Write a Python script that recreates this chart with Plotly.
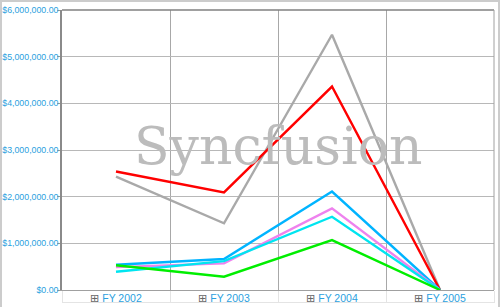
import plotly.graph_objects as go

categories = ["FY 2002", "FY 2003", "FY 2004", "FY 2005"]
series_gray = [2430000, 1430000, 5470000, 0]
series_red = [2540000, 2090000, 4360000, 0]
series_blue = [540000, 665000, 2110000, 0]
series_violet = [490000, 570000, 1750000, 0]
series_cyan = [390000, 620000, 1570000, 0]
series_green = [530000, 285000, 1070000, 0]
y_ticks = [0, 1000000, 2000000, 3000000, 4000000, 5000000, 6000000]

series = [
    (series_gray, "#a9a9a9"),
    (series_red, "#ff0000"),
    (series_blue, "#00b4ff"),
    (series_violet, "#ee82ee"),
    (series_cyan, "#00e5f0"),
    (series_green, "#00ee00"),
]

fig = go.Figure()
for vals, col in series:
    fig.add_trace(go.Scatter(x=categories, y=vals, mode="lines",
                             line=dict(color=col, width=2.4), showlegend=False,
                             hoverinfo="skip"))

ticktext = ["<span style='color:#666666;font-size:11px'>⊞</span> " + c for c in categories]

L, R, T, B = 62, 6, 10, 17
W, H = 500, 307
pw, ph = W - L - R, H - T - B

fig.update_layout(
    width=W, height=H,
    margin=dict(l=L, r=R, t=T, b=B, autoexpand=False),
    paper_bgcolor="white", plot_bgcolor="white",
    xaxis=dict(type="category", range=[-0.5, 3.5], tickson="boundaries",
               tickvals=categories, ticktext=ticktext, automargin=False,
               showgrid=True, gridcolor="#a8a8a8", gridwidth=1,
               ticks="outside", ticklen=12, tickcolor="#e4e4e4",
               tickfont=dict(family="Liberation Sans", size=10.5, color="#2b9fe0"),
               ticklabelstandoff=-2,
               showline=True, linecolor="#a0a0a0", linewidth=1,
               mirror=False, zeroline=False, fixedrange=True),
    yaxis=dict(range=[0, 6000000], tickvals=y_ticks, tickformat="$,.2f",
               automargin=False,
               showgrid=True, gridcolor="#b8b8b8", gridwidth=1,
               ticks="outside", ticklen=3, tickcolor="#999999",
               tickfont=dict(family="Liberation Sans", size=8.8, color="#2b9fe0"),
               ticklabelstandoff=-3,
               showline=True, linecolor="#8a8a8a", linewidth=1.5,
               zeroline=False, fixedrange=True),
    shapes=[
        dict(type="line", xref="paper", yref="paper", x0=0, x1=1, y0=1, y1=1,
             line=dict(color="#808080", width=1.5)),
        dict(type="line", xref="paper", yref="paper", x0=1, x1=1, y0=0, y1=1,
             line=dict(color="#a0a0a0", width=1)),
        dict(type="line", xref="paper", yref="paper", x0=0, x1=1,
             y0=-12.5 / ph, y1=-12.5 / ph, line=dict(color="#e4e4e4", width=1)),
        dict(type="rect", xref="paper", yref="paper",
             x0=(1 - L) / pw, x1=(W - 1 - L) / pw,
             y0=(B - H + 1) / ph, y1=(T - 1) / ph + 1,
             line=dict(color="#cccccc", width=2)),
    ],
    annotations=[
        dict(text="Syncfusion", xref="paper", yref="paper",
             x=(278 - L) / pw, y=(H - B - 146) / ph, xanchor="center", yanchor="middle",
             showarrow=False,
             font=dict(family="DejaVu Serif", size=52, color="#bcbcbc")),
    ],
)

fig.write_html("out.html")
